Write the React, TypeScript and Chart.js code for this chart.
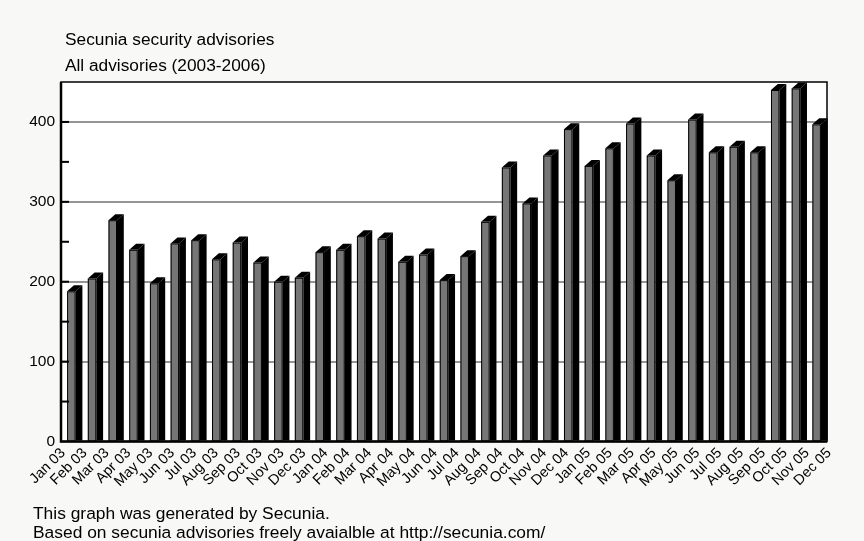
import { useEffect, useRef } from 'react';
import { Chart, registerables } from 'chart.js';

Chart.register(...registerables);

// Monthly advisory counts, one bar per month (Jan 03 .. Jan 06)
const barMonths = [
  'Jan 03', 'Feb 03', 'Mar 03', 'Apr 03', 'May 03', 'Jun 03', 'Jul 03', 'Aug 03', 'Sep 03', 'Oct 03', 'Nov 03', 'Dec 03',
  'Jan 04', 'Feb 04', 'Mar 04', 'Apr 04', 'May 04', 'Jun 04', 'Jul 04', 'Aug 04', 'Sep 04', 'Oct 04', 'Nov 04', 'Dec 04',
  'Jan 05', 'Feb 05', 'Mar 05', 'Apr 05', 'May 05', 'Jun 05', 'Jul 05', 'Aug 05', 'Sep 05', 'Oct 05', 'Nov 05', 'Dec 05',
  'Jan 06',
];

const advisories = [
  188, 204, 277, 240, 198, 248, 252, 228, 249, 224, 200, 205,
  237, 240, 257, 254, 225, 234, 202, 232, 275, 343, 298, 358,
  391, 345, 367, 398, 358, 327, 403, 362, 369, 362, 440, 442,
  397,
];

// Labels printed under the axis
const tickLabels = [
  'Jan 03', 'Feb 03', 'Mar 03', 'Apr 03', 'May 03', 'Jun 03', 'Jul 03', 'Aug 03', 'Sep 03', 'Oct 03', 'Nov 03', 'Dec 03',
  'Jan 04', 'Feb 04', 'Mar 04', 'Apr 04', 'May 04', 'Jun 04', 'Jul 04', 'Aug 04', 'Sep 04', 'Oct 04', 'Nov 04', 'Dec 04',
  'Jan 05', 'Feb 05', 'Mar 05', 'Apr 05', 'May 05', 'Jun 05', 'Jul 05', 'Aug 05', 'Sep 05', 'Oct 05', 'Nov 05', 'Dec 05',
];

const yMax = 450;
const yMinorStep = 50;
const yMajorStep = 100;

const titleLines = ['Secunia security advisories', 'All advisories (2003-2006)'];
const footerLines = [
  'This graph was generated by Secunia.',
  'Based on secunia advisories freely avaialble at http://secunia.com/',
];

const FONT = '"Liberation Sans", Arial, Helvetica, sans-serif';

// Paints the page/plot backgrounds, the extruded bars, inward ticks, frame and captions
const decorPlugin = {
  id: 'decor',
  beforeDraw(chart: any) {
    const { ctx, chartArea: a, width, height } = chart;
    ctx.save();
    ctx.fillStyle = '#f8f8f7';
    ctx.fillRect(0, 0, width, height);
    ctx.fillStyle = '#ffffff';
    ctx.fillRect(a.left, a.top, a.right - a.left, a.bottom - a.top);
    ctx.restore();
  },
  afterDatasetsDraw(chart: any) {
    const { ctx, chartArea: a } = chart;
    const yScale = chart.scales.y;
    const meta = chart.getDatasetMeta(0);

    ctx.save();
    // bars with a right-hand side face and a slanted top
    const dx = 6.8;
    const dy = 6;
    meta.data.forEach((el: any) => {
      const { x, y, base, width: w } = el.getProps(['x', 'y', 'base', 'width'], true);
      const l = x - w / 2;
      const r = x + w / 2;
      ctx.fillStyle = '#000';
      ctx.beginPath();
      ctx.moveTo(r, y);
      ctx.lineTo(r + dx, Math.max(y - dy, a.top));
      ctx.lineTo(r + dx, base);
      ctx.lineTo(r, base);
      ctx.closePath();
      ctx.fill();
      ctx.beginPath();
      ctx.moveTo(l, y);
      ctx.lineTo(l + dx, Math.max(y - dy, a.top));
      ctx.lineTo(r + dx, Math.max(y - dy, a.top));
      ctx.lineTo(r, y);
      ctx.closePath();
      ctx.fill();
      ctx.fillStyle = '#767676';
      ctx.fillRect(l, y, w, base - y);
      ctx.strokeStyle = '#000';
      ctx.lineWidth = 1;
      ctx.strokeRect(l + 0.5, y + 0.5, w - 1, base - y);
    });

    // tick marks pointing into the plot
    ctx.strokeStyle = '#000';
    ctx.lineWidth = 2;
    for (let v = yMinorStep; v < yMax; v += yMinorStep) {
      const py = yScale.getPixelForValue(v);
      ctx.beginPath();
      ctx.moveTo(a.left, py);
      ctx.lineTo(a.left + 8, py);
      ctx.stroke();
    }

    // frame
    ctx.lineWidth = 1.5;
    ctx.strokeRect(a.left, a.top, a.right - a.left, a.bottom - a.top);
    ctx.lineWidth = 2.5;
    ctx.beginPath();
    ctx.moveTo(a.left, a.top);
    ctx.lineTo(a.left, a.bottom);
    ctx.lineTo(a.right, a.bottom);
    ctx.stroke();

    // captions
    ctx.fillStyle = '#000';
    ctx.textBaseline = 'middle';
    ctx.textAlign = 'left';
    ctx.font = `17.3px ${FONT}`;
    ctx.fillText(titleLines[0], 65, 40);
    ctx.fillText(titleLines[1], 65, 66);
    ctx.font = `17.4px ${FONT}`;
    ctx.fillText(footerLines[0], 33, 514);
    ctx.fillText(footerLines[1], 33, 533);
    ctx.restore();
  },
};

export default function App() {
  const canvasRef = useRef<HTMLCanvasElement | null>(null);

  useEffect(() => {
    const canvas = canvasRef.current;
    if (!canvas) return;
    const chart = new Chart(canvas, {
      type: 'bar',
      data: {
        labels: barMonths,
        datasets: [
          {
            data: advisories,
            backgroundColor: 'rgba(0,0,0,0)',
            borderWidth: 0,
            categoryPercentage: 1,
            barPercentage: 0.41,
            xAxisID: 'x',
            yAxisID: 'y',
          },
        ],
      },
      options: {
        responsive: false,
        animation: false,
        events: [],
        layout: { padding: { top: 82, right: 37, left: 0, bottom: 0 } },
        plugins: {
          legend: { display: false },
          tooltip: { enabled: false },
          title: { display: false },
        },
        scales: {
          x: {
            type: 'category',
            display: false,
            offset: true,
            grid: { display: false },
          },
          xl: {
            type: 'category',
            labels: tickLabels,
            position: 'bottom',
            offset: false,
            grid: { display: false, drawTicks: false },
            border: { display: false },
            ticks: {
              autoSkip: false,
              minRotation: 45,
              maxRotation: 45,
              color: '#000',
              padding: 3,
              labelOffset: 2,
              font: { family: FONT, size: 14.5 },
            },
            afterFit: (s: any) => {
              s.height = 99.5;
            },
          },
          y: {
            min: 0,
            max: yMax,
            position: 'left',
            ticks: {
              stepSize: yMinorStep,
              color: '#000',
              padding: 6,
              font: { family: FONT, size: 15.5 },
              callback: (v: any) => (Number(v) % yMajorStep === 0 ? String(v) : ''),
            },
            grid: {
              drawTicks: false,
              lineWidth: 2,
              color: (c: any) => {
                const v = c.tick ? c.tick.value : 0;
                return v > 0 && v < yMax && v % yMajorStep === 0 ? '#959595' : 'rgba(0,0,0,0)';
              },
            },
            border: { display: false },
            afterFit: (s: any) => {
              s.width = 61;
            },
          },
        },
      } as any,
      plugins: [decorPlugin],
    });
    return () => chart.destroy();
  }, []);

  return (
    <div style={{ position: 'absolute', left: 0, top: 0, width: 864, height: 541 }}>
      <canvas ref={canvasRef} width={864} height={541} style={{ display: 'block' }} />
    </div>
  );
}
